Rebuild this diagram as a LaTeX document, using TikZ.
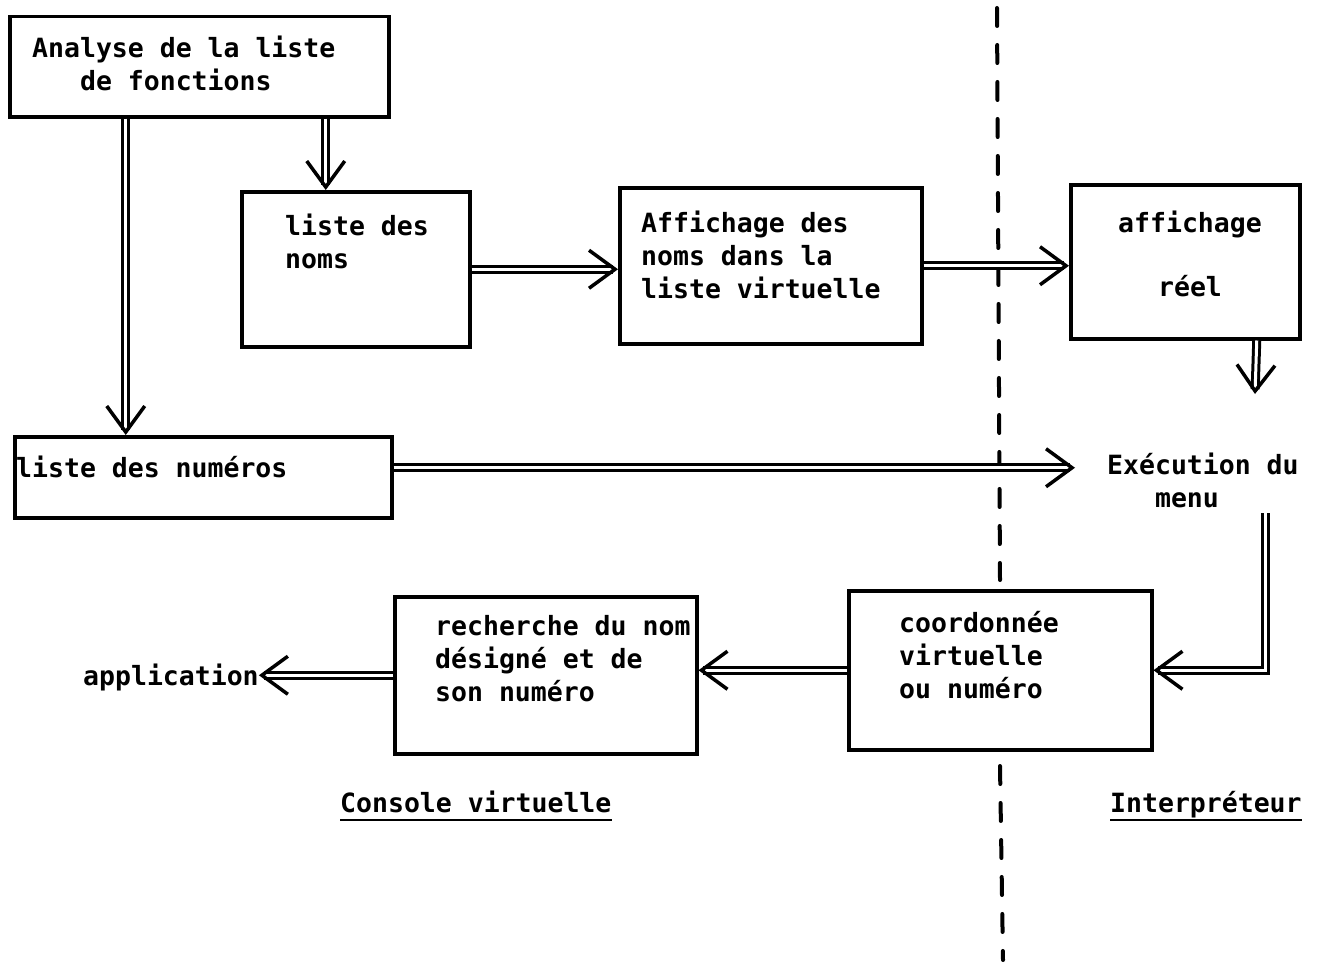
\documentclass[tikz,border=0pt]{standalone}
\usepackage{fontspec}
\usepackage{tikz}
\usetikzlibrary{arrows.meta}
\newfontfamily\typewr{DejaVu Sans Mono}

\begin{document}
\begin{tikzpicture}[x=1pt,y=1pt,yscale=-1,xscale=1,
  box/.style={draw, line width=3.5pt, inner sep=0pt, anchor=north west},
  txt/.style={font=\typewr\bfseries\fontsize{26.5}{33}\selectfont, align=left, inner sep=0pt, anchor=base west},
  dbl/.style={double, double distance=3pt, line width=3pt, -{Straight Barb[length=26pt,width=38pt,line width=3.5pt]}},
  divider/.style={line width=4pt, line cap=round, dash pattern=on 18pt off 19pt}]
\useasboundingbox (0,0) rectangle (1317,966);

%Shape: Rectangle
\node[box, minimum width=379, minimum height=100] (ana) at (8,15) {};
\node[box, minimum width=228, minimum height=155] (noms) at (240,190) {};
\node[box, minimum width=302, minimum height=156] (aff) at (618,186) {};
\node[box, minimum width=229, minimum height=154] (reel) at (1069,183) {};
\node[box, minimum width=377, minimum height=81] (num) at (13,435) {};
\node[box, minimum width=303, minimum height=159] (coord) at (847,589) {};
\node[box, minimum width=302, minimum height=157] (rech) at (393,595) {};

% Text Node (anchored at the baseline of the last line)
\node[txt] (anaT) at (32,91) {Analyse de la liste\\\hphantom{Ana}de fonctions};
\node[txt] (nomsT) at (285,268) {liste des\\noms};
\node[txt] (affT) at (641,298) {Affichage des\\noms dans la\\liste virtuelle};
\node[txt, align=center, anchor=base] (reelT) at (1190,296) {affichage\\[31pt]réel};
\node[txt] (exec) at (1107,507) {Exécution du\\\hphantom{Exé}menu};
\node[txt] (numT) at (16,477) {liste des numéros};
\node[txt] (coordT) at (899,698) {coordonnée\\virtuelle\\ou numéro};
\node[txt] (rechT) at (435,701) {recherche du nom\\désigné et de\\son numéro};
\node[txt] (app) at (83,685) {application};
\node[txt] (cons) at (340,812) {Console virtuelle};
\node[txt] (interp) at (1110,812) {Interpréteur};

%Straight Lines
\draw[divider] (997,8) -- (1000,580);
\draw[divider] (1000,766) -- (1003,960);
\draw[line width=2.5pt] ([yshift=8]cons.base west) -- ([yshift=8]cons.base east);
\draw[line width=2.5pt] ([yshift=8]interp.base west) -- ([yshift=8]interp.base east);

\coordinate (reelEnd) at (1255,394);
\coordinate (execOut) at (1265,513);

\draw[dbl] ([xshift=-73.5]ana.south) -- ([xshift=-73.5]ana.south |- num.north);
\draw[dbl] ([xshift=126.5]ana.south) -- ([xshift=126.5]ana.south |- noms.north);
\draw[dbl] (noms.east) -- (noms.east -| aff.west);
\draw[dbl] (aff.east) -- (aff.east -| reel.west);
\draw[dbl] ([xshift=71.5]reel.south) -- (reelEnd);
\draw[dbl, shorten >=32pt] ([yshift=-9.5]num.east) -- ([yshift=-9.5]num.east -| exec.west);
\draw[dbl] (execOut) |- (coord.east);
\draw[dbl] (coord.west) -- (coord.west -| rech.east);
\draw[dbl] (rech.west) -- (rech.west -| app.east);

\end{tikzpicture}
\end{document}
